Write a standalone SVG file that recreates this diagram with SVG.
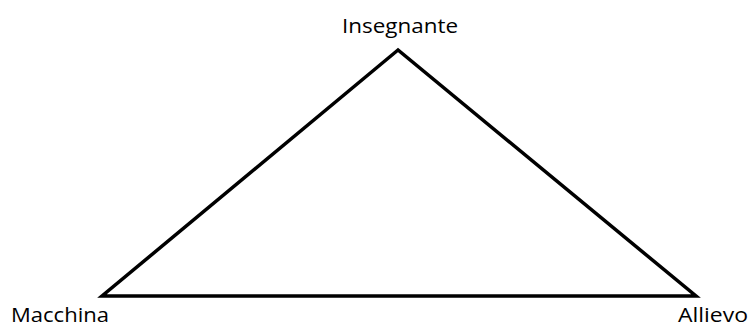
<svg xmlns="http://www.w3.org/2000/svg" width="751" height="329" viewBox="0 0 751 329">
<style>
.lbl{font-family:"Open Sans","Liberation Sans",sans-serif;font-size:20px;fill:#000}
.edge{fill:none;stroke:#000;stroke-width:3.5;stroke-linejoin:miter;stroke-miterlimit:20}
</style>
<rect width="751" height="329" fill="#fff"/>
<g id="connectors">
<polygon class="edge" points="398,50 102,296 696,296"/>
</g>
<g id="node-insegnante"><text class="lbl" x="400" y="33" text-anchor="middle" textLength="116" lengthAdjust="spacingAndGlyphs">Insegnante</text></g>
<g id="node-macchina"><text class="lbl" x="11" y="322" textLength="98" lengthAdjust="spacingAndGlyphs">Macchina</text></g>
<g id="node-allievo"><text class="lbl" x="678" y="322" textLength="70" lengthAdjust="spacingAndGlyphs">Allievo</text></g>
</svg>
